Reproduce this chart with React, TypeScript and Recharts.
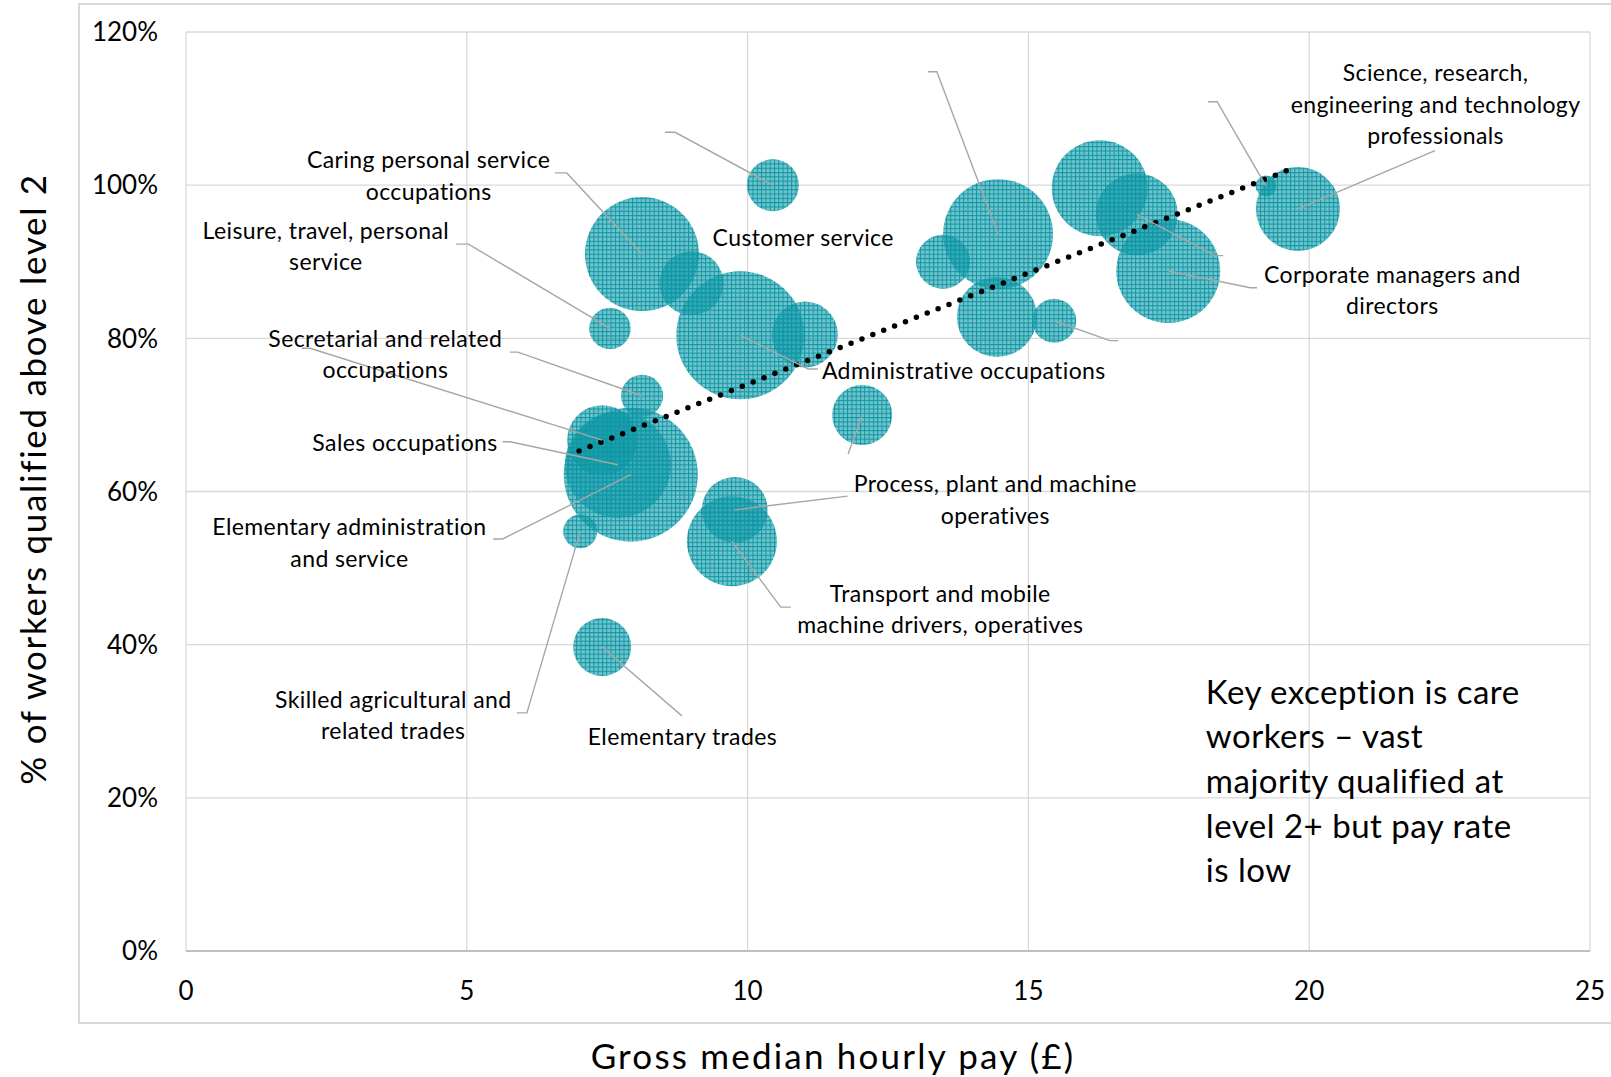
import { CartesianGrid, Scatter, ScatterChart, XAxis, YAxis, ZAxis } from 'recharts';

// occupational groups: median hourly pay (£), share qualified above level 2 (%), employment (k)
const occupations = [
  'Caring personal service occupations',
  'Leisure, travel and related personal service',
  'Secretarial and related occupations',
  'Sales occupations',
  'Elementary administration and service',
  'Skilled agricultural and related trades',
  'Elementary trades and related occupations',
  'Transport and mobile machine drivers and operatives',
  'Process, plant and machine operatives',
  'Administrative occupations',
  'Customer service occupations',
  'Corporate managers and directors',
  'Science, research, engineering and technology professionals',
  'Textiles, printing and other skilled trades',
  'Culture, media and sports occupations',
  'Skilled construction and building trades',
  'Skilled metal, electrical and electronic trades',
  'Other managers and proprietors',
  'Business and public service associate professionals',
  'Health and social care associate professionals',
  'Protective service occupations',
  'Teaching and educational professionals',
  'Health professionals',
  'Science, engineering and technology associate professionals',
];
const hourlyPay = [8.12, 7.55, 8.12, 7.69, 7.92, 7.02, 7.41, 9.72, 9.77, 9.87, 9.0, 17.49, 19.8, 7.41, 10.45, 11.02, 12.04, 13.48, 14.46, 14.44, 15.46, 16.27, 16.93, 19.23];
const qualifiedPct = [91.0, 81.3, 72.5, 63.5, 62.2, 54.8, 39.7, 53.5, 57.6, 80.4, 87.2, 88.8, 96.9, 66.7, 100.0, 80.5, 70.0, 90.0, 93.6, 82.8, 82.3, 99.6, 96.2, 99.9];
const employmentK = [1949, 257, 265, 1685, 2693, 173, 505, 1215, 653, 2458, 614, 1622, 1058, 735, 406, 653, 540, 437, 1815, 960, 290, 1382, 1009, 66];

// linear trend, first and last point
const trendPay = [7.0, 19.67];
const trendPct = [65.3, 102.1];

const xTicks = [0, 5, 10, 15, 20, 25];
const yTicks = [0, 20, 40, 60, 80, 100, 120];

// data labels: text block centre in chart units
const labelText = [
  ['Caring personal service', 'occupations'],
  ['Leisure, travel, personal', 'service'],
  ['Secretarial and related', 'occupations'],
  ['Sales occupations'],
  ['Elementary administration', 'and service'],
  ['Skilled agricultural and', 'related trades'],
  ['Elementary trades'],
  ['Transport and mobile', 'machine drivers, operatives'],
  ['Process, plant and machine', 'operatives'],
  ['Administrative occupations'],
  ['Customer service'],
  ['Corporate managers and', 'directors'],
  ['Science, research,', 'engineering and technology', 'professionals'],
];
const labelPay = [4.32, 2.49, 3.55, 3.9, 2.91, 3.69, 8.84, 13.43, 14.41, 13.85, 10.99, 21.48, 22.25];
const labelPct = [101.3, 92.1, 78.0, 66.4, 53.4, 30.9, 28.1, 44.7, 59.0, 75.8, 93.2, 86.4, 110.6];

// leader lines: bubble index, start point, elbow pay (null = straight)
const leaderBubble = [0, 1, 2, 13, 3, 4, 5, 6, 7, 8, 9, 16, 14, 18, 20, 22, 11, 23, 12];
const leaderPay = [6.57, 4.81, 5.77, 2.06, 5.64, 5.47, 5.89, 8.83, 10.77, 11.78, 11.25, 11.79, 8.53, 13.21, 16.6, 18.47, 19.07, 18.2, 22.24];
const leaderElbow = [6.78, 5.03, 5.91, 2.21, 5.77, 5.64, 6.07, null, 10.59, null, 11.08, null, 8.71, 13.37, 16.45, 18.32, 18.95, 18.36, null];
const leaderPct = [101.6, 92.3, 78.2, 78.7, 66.5, 53.8, 31.1, 30.7, 44.9, 59.4, 76.0, 64.9, 106.9, 114.8, 79.7, 90.8, 86.6, 110.9, 104.5];

const noteLines = ['Key exception is care', 'workers \u2013 vast', 'majority qualified at', 'level 2+ but pay rate', 'is low'];
const notePay = [18.16];
const notePct = [34.0];

const FONT = 'Lato, "Liberation Sans", sans-serif';
const TEAL = '#0E97A6';

const bubbles = occupations.map((name, i) => ({ name, x: hourlyPay[i], y: qualifiedPct[i], z: employmentK[i] }));
const trend = trendPay.map((x, i) => ({ x, y: trendPct[i] }));
const labels = labelText.map((lines, i) => ({ lines, x: labelPay[i], y: labelPct[i] }));
const leaders = leaderBubble.map((b, i) => {
  const pts = [{ x: leaderPay[i], y: leaderPct[i] }];
  const elbow = leaderElbow[i];
  if (elbow !== null) pts.push({ x: elbow, y: leaderPct[i] });
  pts.push({ x: hourlyPay[b], y: qualifiedPct[b] });
  return pts;
});
const note = [{ x: notePay[0], y: notePct[0] }];

const Blank = () => <g />;

function Bubble(p: any) {
  const r = p.size ? Math.sqrt(p.size / Math.PI) : p.width / 2;
  return <circle cx={p.cx} cy={p.cy} r={r} fill="url(#mesh)" />;
}

function Label(p: any) {
  const lines: string[] = p.payload.lines;
  const lh = 31.5;
  const top = p.cy - ((lines.length - 1) * lh) / 2;
  return (
    <text textAnchor="middle" fontSize={23} fontFamily={FONT} fill="#000" style={{ letterSpacing: 0.4 }}>
      {lines.map((s, i) => (
        <tspan key={i} x={p.cx} y={top + i * lh} dominantBaseline="central">
          {s}
        </tspan>
      ))}
    </text>
  );
}

function Note(p: any) {
  return (
    <text fontSize={33} fontFamily={FONT} fill="#000" style={{ letterSpacing: 0.5 }}>
      {noteLines.map((s, i) => (
        <tspan key={i} x={p.cx} y={p.cy + i * 44.7} dominantBaseline="central">
          {s}
        </tspan>
      ))}
    </text>
  );
}

export default function App() {
  return (
    <div style={{ position: 'absolute', left: 0, top: 0, width: 1611, height: 1077, background: '#fff', overflow: 'hidden' }}>
      <div
        style={{
          position: 'absolute',
          left: 78,
          top: 3,
          width: 1600,
          height: 1017,
          border: '2px solid #D9D9D9',
        }}
      />
      <div style={{ position: 'absolute', left: 0, top: 0 }}>
        <ScatterChart width={1611} height={1077} margin={{ top: 32, right: 21, bottom: 66, left: 76 }}>
          <defs>
            <pattern id="mesh" patternUnits="userSpaceOnUse" width={4.3} height={4.3}>
              <rect width={4.3} height={4.3} fill={TEAL} fillOpacity={0.58} />
              <path d="M0 0.5H4.3M0.5 0V4.3" stroke={TEAL} strokeWidth={1} />
            </pattern>
          </defs>
          <CartesianGrid stroke="#D9D9D9" strokeWidth={1.3} />
          <XAxis
            type="number"
            dataKey="x"
            domain={[0, 25]}
            ticks={xTicks}
            tickLine={false}
            tickSize={0}
            tickMargin={31}
            axisLine={{ stroke: '#BFBFBF', strokeWidth: 2 }}
            tick={{ fontSize: 26, fill: '#000', fontFamily: FONT }}
            height={60}
          />
          <YAxis
            type="number"
            dataKey="y"
            domain={[0, 120]}
            ticks={yTicks}
            tickFormatter={(v: number) => `${v}%`}
            tickLine={false}
            tickSize={0}
            tickMargin={28}
            axisLine={false}
            tick={{ fontSize: 26, fill: '#000', fontFamily: FONT }}
            width={110}
          />
          <ZAxis type="number" dataKey="z" domain={[0, 3000]} range={[0, 15708]} />
          <Scatter data={bubbles} shape={Bubble} isAnimationActive={false} />
          <Scatter
            data={trend}
            shape={Blank}
            line={{ stroke: '#000', strokeWidth: 5.5, strokeDasharray: '0 11.7', strokeLinecap: 'round' }}
            isAnimationActive={false}
          />
          {leaders.map((pts, i) => (
            <Scatter
              key={i}
              data={pts}
              shape={Blank}
              line={{ stroke: '#A6A6A6', strokeWidth: 1.4 }}
              isAnimationActive={false}
            />
          ))}
          <Scatter data={labels} shape={Label} isAnimationActive={false} />
          <Scatter data={note} shape={Note} isAnimationActive={false} />
        </ScatterChart>
      </div>
      <div
        style={{
          position: 'absolute',
          left: 32,
          top: 479,
          transform: 'translate(-50%, -50%) rotate(-90deg)',
          whiteSpace: 'nowrap',
          fontFamily: FONT,
          fontSize: 35,
          letterSpacing: 1.7,
          color: '#000',
        }}
      >
        % of workers qualified above level 2
      </div>
      <div
        style={{
          position: 'absolute',
          left: 833,
          top: 1055,
          transform: 'translate(-50%, -50%)',
          whiteSpace: 'nowrap',
          fontFamily: FONT,
          fontSize: 35,
          letterSpacing: 2.2,
          color: '#000',
        }}
      >
        Gross median hourly pay (£)
      </div>
    </div>
  );
}
